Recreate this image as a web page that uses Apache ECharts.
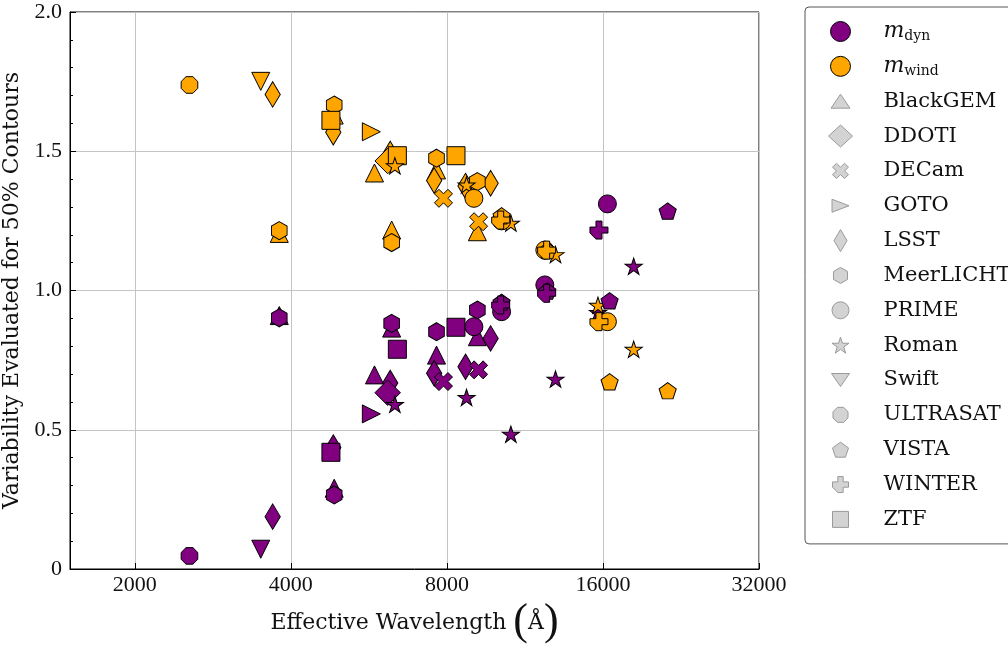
<!DOCTYPE html>
<html><head><meta charset="utf-8">
<script src="https://cdn.jsdelivr.net/npm/echarts@6/dist/echarts.min.js"></script>
<style>html,body{margin:0;padding:0;background:#fff}#c{width:1008px;height:645px}</style>
</head><body><div id="c"></div>
<script>
// ---------------- DATA (effective wavelength in Å; variability for m_dyn / m_wind) ----------------
const instruments = ['BlackGEM','DDOTI','DECam','GOTO','LSST','MeerLICHT','PRIME','Roman','Swift','ULTRASAT','VISTA','WINTER','ZTF'];

const blackgemWave = [3800, 4850, 5800, 6260, 7640, 9160];
const blackgemDyn  = [0.91, 0.29, 0.697, 0.865, 0.768, 0.834];
const blackgemWind = [1.205, 1.63, 1.422, 1.217, 1.433, 1.211];

const ddotiWave = [6150];
const ddotiDyn  = [0.633];
const ddotiWind = [1.465];

const decamWave = [7880, 9210];
const decamDyn  = [0.673, 0.715];
const decamWind = [1.331, 1.247];

const gotoWave = [5720];
const gotoDyn  = [0.557];
const gotoWind = [1.570];

const lsstWave = [3690, 4830, 6220, 7560, 8690, 9715];
const lsstDyn  = [0.188, 0.436, 0.668, 0.703, 0.726, 0.828];
const lsstWind = [1.704, 1.568, 1.49, 1.395, 1.375, 1.385];

const meerlichtWave = [3800, 4850, 6260, 7640, 9160];
const meerlichtDyn  = [0.902, 0.266, 0.882, 0.852, 0.930];
const meerlichtWind = [1.215, 1.666, 1.172, 1.475, 1.391];

const primeWave = [9020, 10200, 12360, 16320];
const primeDyn  = [0.870, 0.924, 1.02, 1.311];
const primeWind = [1.331, 1.25, 1.145, 0.888];

const romanWave = [6350, 8730, 10630, 12960, 15650, 18340];
const romanDyn  = [0.588, 0.613, 0.481, 0.679, 0.918, 1.084];
const romanWind = [1.445, 1.376, 1.239, 1.126, 0.944, 0.786];

const swiftWave = [3500];
const swiftDyn  = [0.071];
const swiftWind = [1.751];

const ultrasatWave = [2550];
const ultrasatDyn  = [0.047];
const ultrasatWind = [1.738];

const vistaWave = [10200, 12500, 16480, 21330];
const vistaDyn  = [0.955, 0.995, 0.960, 1.282];
const vistaWind = [1.265, 1.14, 0.669, 0.637];

const winterWave = [10160, 12460, 15720];
const winterDyn  = [0.948, 0.99, 1.217];
const winterWind = [1.253, 1.145, 0.888];

const ztfWave = [4780, 6420, 8330];
const ztfDyn  = [0.419, 0.789, 0.868];
const ztfWind = [1.611, 1.484, 1.484];

const xTickValues = [2000, 4000, 8000, 16000, 32000];
const yTickValues = [0, 0.5, 1.0, 1.5, 2.0];

// ---------------- table built from the arrays ----------------
const table = {
  BlackGEM: [blackgemWave, blackgemDyn, blackgemWind],
  DDOTI: [ddotiWave, ddotiDyn, ddotiWind],
  DECam: [decamWave, decamDyn, decamWind],
  GOTO: [gotoWave, gotoDyn, gotoWind],
  LSST: [lsstWave, lsstDyn, lsstWind],
  MeerLICHT: [meerlichtWave, meerlichtDyn, meerlichtWind],
  PRIME: [primeWave, primeDyn, primeWind],
  Roman: [romanWave, romanDyn, romanWind],
  Swift: [swiftWave, swiftDyn, swiftWind],
  ULTRASAT: [ultrasatWave, ultrasatDyn, ultrasatWind],
  VISTA: [vistaWave, vistaDyn, vistaWind],
  WINTER: [winterWave, winterDyn, winterWind],
  ZTF: [ztfWave, ztfDyn, ztfWind]
};

// ---------------- marker geometry ----------------
const PURPLE = '#800080', ORANGE = '#FFA500', LGRAY = '#d3d3d3', LEDGE = '#9a9a9a';
const FONT_T = 'DejaVu Serif', FONT_N = 'Liberation Serif';

function norm(pts){
  let x0=Infinity,x1=-Infinity,y0=Infinity,y1=-Infinity;
  pts.forEach(([x,y])=>{x0=Math.min(x0,x);x1=Math.max(x1,x);y0=Math.min(y0,y);y1=Math.max(y1,y);});
  return pts.map(([x,y])=>[(x-x0)/(x1-x0)*2-1,(y-y0)/(y1-y0)*2-1]);
}
function poly(pts,cx,cy,hw,hh){
  return 'M'+norm(pts).map(p=>(cx+p[0]*hw).toFixed(3)+','+(cy+p[1]*hh).toFixed(3)).join('L')+'Z';
}
function ring(n, start, r){ const a=[]; for(let k=0;k<n;k++){const t=(start+k*360/n)*Math.PI/180;a.push([Math.cos(t)*r,Math.sin(t)*r]);} return a; }
const triUp=[[0,-1],[1,1],[-1,1]], triDown=[[0,1],[1,-1],[-1,-1]], triRight=[[1,0],[-1,1],[-1,-1]];
const diamond=[[0,-1],[1,0],[0,1],[-1,0]];
const hexPts=ring(6,-90,1), octPts=ring(8,22.5,1), pentPts=ring(5,-90,1);
const starPts=[]; for(let k=0;k<10;k++){const r=k%2?0.381966:1;const t=(-90+k*36)*Math.PI/180;starPts.push([Math.cos(t)*r,Math.sin(t)*r]);}
const plusPts=[[-1,-3],[1,-3],[1,-1],[3,-1],[3,1],[1,1],[1,3],[-1,3],[-3,1],[-3,-1],[-1,-1]];
const xPts=[[-1,-2],[0,-1],[1,-2],[2,-1],[1,0],[2,1],[1,2],[0,1],[-1,2],[-2,1],[-1,0],[-2,-1]];
const sqPts=[[-1,-1],[1,-1],[1,1],[-1,1]];

const shapes = {
  BlackGEM: {pts:triUp, size:[18,18], leg:[19,14]},
  DDOTI: {pts:diamond, size:[25.5,25.5], leg:[24,22]},
  DECam: {pts:xPts, size:[18,18], leg:[16,15]},
  GOTO: {pts:triRight, size:[18,18], leg:[17,13]},
  LSST: {pts:diamond, size:[15.3,25.5], leg:[13,22]},
  MeerLICHT: {pts:hexPts, size:[15.6,18], leg:[14,16]},
  PRIME: {circle:true, size:[18,18], leg:[17,17]},
  Roman: {pts:starPts, size:[17.1,16.3], off:[0,-0.86], leg:[17,16]},
  Swift: {pts:triDown, size:[18,18], leg:[18,13]},
  ULTRASAT: {pts:octPts, size:[16.6,16.6], leg:[15,15]},
  VISTA: {pts:pentPts, size:[17.1,16.3], off:[0,-0.86], leg:[16,15]},
  WINTER: {pts:plusPts, size:[18,18], leg:[16,16]},
  ZTF: {pts:sqPts, size:[18,18], leg:[16,16]}
};
function mainSymbol(s){ return s.circle ? 'circle' : 'path://'+poly(s.pts,0,0,1,1); }
function circleIcon(r){ return 'path://M0,0M24,24M'+(12+r)+',12A'+r+','+r+',0,1,1,'+(12-r)+',12A'+r+','+r+',0,1,1,'+(12+r)+',12Z'; }
function legIcon(s){ return s.circle ? circleIcon(s.leg[0]/2) : 'path://M0,0M24,24'+poly(s.pts,12,12,s.leg[0]/2,s.leg[1]/2); }

// drawing order (later = on top)
const drawOrder = ['BlackGEM','LSST','DDOTI','DECam','GOTO','MeerLICHT','ZTF','Roman','PRIME','VISTA','WINTER','Swift','ULTRASAT'];

const dynStyle  = {color:PURPLE, borderColor:'#000', borderWidth:1, opacity:1};
const windStyle = {color:ORANGE, borderColor:'#000', borderWidth:1, opacity:1};
const series = [
  {name:'m_dyn', type:'scatter', data:[], symbol:'circle', itemStyle:dynStyle},
  {name:'m_wind', type:'scatter', data:[], symbol:'circle', itemStyle:windStyle}
];
drawOrder.forEach(name=>{
  const [w,d,v] = table[name]; const s = shapes[name];
  const data = [];
  w.forEach((lam,i)=>{
    data.push({value:[lam/1000, d[i]], itemStyle:dynStyle});
    data.push({value:[lam/1000, v[i]], itemStyle:windStyle});
  });
  series.push({name, type:'scatter', data, symbol:mainSymbol(s), symbolSize:s.size, symbolOffset:s.off||[0,0],
    itemStyle:{color:LGRAY,borderColor:LEDGE,borderWidth:1,opacity:1}, emphasis:{disabled:true}});
});

const legendData = [
  {name:'m_dyn', icon:circleIcon(10), itemStyle:dynStyle},
  {name:'m_wind', icon:circleIcon(10), itemStyle:windStyle}
].concat(instruments.map(n=>({name:n, icon:legIcon(shapes[n]), itemStyle:{color:LGRAY,borderColor:LEDGE,borderWidth:1,opacity:1}})));

const chart = echarts.init(document.getElementById('c'), null, {renderer:'canvas'});
chart.setOption({
  animation:false,
  backgroundColor:'#fff',
  grid:{left:70, right:249, top:12, bottom:76, show:true, borderColor:'#000', borderWidth:1, backgroundColor:'transparent', containLabel:false, outerBoundsMode:'none'},
  xAxis:{
    type:'log', logBase:2, min:1.5, max:32,
    name:'{t|Effective Wavelength }{p|(}{a|Å}{p|)}',
    nameLocation:'middle', nameGap:27,
    nameTextStyle:{rich:{
      t:{fontFamily:FONT_T, fontSize:22, color:'#111', verticalAlign:'middle', lineHeight:48},
      a:{fontFamily:FONT_T, fontSize:22, color:'#111', verticalAlign:'middle', lineHeight:48},
      p:{fontFamily:FONT_N, fontSize:44, color:'#111', verticalAlign:'middle', lineHeight:48}
    }},
    axisLine:{lineStyle:{color:'#000', width:1}},
    axisTick:{inside:true, length:6, lineStyle:{color:'#000'}},
    axisLabel:{showMinLabel:false, margin:5, fontFamily:FONT_N, fontSize:22, color:'#111',
      formatter:v=>{const r=Math.round(v*1000); return xTickValues.indexOf(r)>=0?String(r):'';}},
    splitLine:{show:true, lineStyle:{color:'#c4c4c4', width:1}},
    minorTick:{show:false}
  },
  yAxis:{
    type:'value', min:0, max:2, interval:0.5,
    name:'Variability Evaluated for 50% Contours',
    nameLocation:'middle', nameGap:36,
    nameTextStyle:{fontFamily:FONT_T, fontSize:22, color:'#111'},
    axisLine:{show:true, lineStyle:{color:'#000', width:1}},
    axisTick:{inside:true, length:6, lineStyle:{color:'#000'}},
    minorTick:{show:true, splitNumber:5, length:3, lineStyle:{color:'#000'}},
    axisLabel:{margin:8, fontFamily:FONT_N, fontSize:22, color:'#111',
      formatter:v=>{const k=yTickValues.indexOf(Math.round(v*10)/10); return k<0?'':(v===0?'0':v.toFixed(1));}},
    splitLine:{show:true, lineStyle:{color:'#c4c4c4', width:1}}
  },
  legend:{
    orient:'vertical', left:805, top:7,
    padding:[12,40,12,23],
    itemWidth:24, itemHeight:24, itemGap:9.85,
    borderColor:'#555', borderWidth:1, borderRadius:4, backgroundColor:'#fff',
    selectedMode:false,
    textStyle:{fontFamily:FONT_T, fontSize:21, color:'#111', padding:[0,0,0,26], lineHeight:24,
      rich:{
        it:{fontFamily:FONT_T, fontStyle:'italic', fontSize:22, color:'#111', lineHeight:24, verticalAlign:'middle'},
        sub:{fontFamily:FONT_T, fontSize:14, color:'#111', lineHeight:14, verticalAlign:'bottom'}
      }},
    formatter:n=> n==='m_dyn' ? '{it|m}{sub|dyn}' : (n==='m_wind' ? '{it|m}{sub|wind}' : n),
    data:legendData
  },
  series
});
</script></body></html>
